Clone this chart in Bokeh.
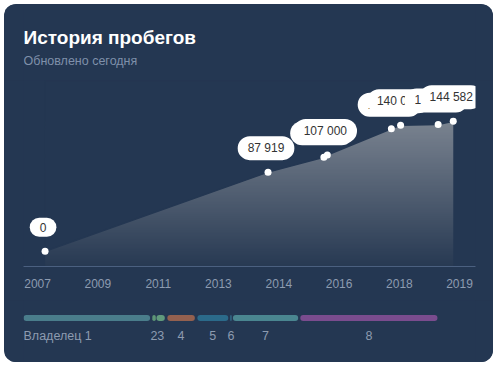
import numpy as np
import pandas as pd
from bokeh.plotting import figure
from bokeh.models import Range1d, FixedTicker, DatetimeTickFormatter, Label
from bokeh.layouts import column
from bokeh.core.properties import value
from bokeh.embed import file_html
from bokeh.resources import INLINE

# ---- data ----
dates = ["2008-02-10", "2014-06-14", "2016-01-15", "2016-02-20",
         "2017-12-16", "2018-03-22", "2019-04-16", "2019-09-20"]
mileage = [0, 87919, 104500, 107000, 136100, 140000, 141000, 144582]

tick_dates = ["2007-11-24", "2009-08-11", "2011-05-01", "2013-01-15",
              "2014-10-05", "2016-06-21", "2018-03-10", "2019-11-24"]

owner_names = ["Владелец 1", "2", "3", "4", "5", "6", "7", "8"]
owner_start = ["2007-07-01", "2011-02-28", "2011-04-12", "2011-08-03",
               "2012-06-10", "2013-05-15", "2013-06-14", "2015-05-15"]
owner_end = ["2011-02-05", "2011-04-05", "2011-07-08", "2012-05-15",
             "2013-04-27", "2013-06-03", "2015-04-23", "2019-04-09"]
owner_colors = ["#4a7d8b", "#5d9676", "#609a7c", "#93604f",
                "#2b6a8a", "#2f5f7c", "#4a8690", "#7a4c8e"]

title_text = "История пробегов"
subtitle_text = "Обновлено сегодня"

# ---- styles ----
BG = "#243752"
FONT = "Liberation Sans"
W = 489


def ms(d):
    return pd.Timestamp(d).timestamp() * 1000.0


xms = np.array([ms(d) for d in dates])
tick_ms = [ms(d) for d in tick_dates]
os_ms = [ms(d) for d in owner_start]
oe_ms = [ms(d) for d in owner_end]


def base_fig(**kw):
    f = figure(width=W, toolbar_location=None, output_backend="svg",
               y_axis_location=None, **kw)
    f.background_fill_color = BG
    f.border_fill_color = BG
    f.outline_line_color = None
    f.grid.visible = False
    return f


# ---- header ----
p0 = base_fig(height=76, x_range=Range1d(0, 470), y_range=Range1d(0, 76),
              x_axis_location=None,
              min_border_left=19, min_border_right=0,
              min_border_top=0, min_border_bottom=0)
p0.text(x=[0], y=[43.5], text=[title_text], text_font=value(FONT),
        text_font_size="19px", text_font_style="bold", text_color="white",
        text_baseline="alphabetic", text_align="left")
p0.text(x=[0], y=[20], text=[subtitle_text], text_font=value(FONT),
        text_font_size="12.5px", text_color="#7f90aa",
        text_baseline="alphabetic", text_align="left")

# ---- mileage chart ----
x_range = Range1d(ms("2007-07-01"), ms("2020-05-08"))
y_start, y_end = -17000, 189800

p1 = base_fig(height=220, x_range=x_range, y_range=Range1d(y_start, y_end),
              x_axis_type="datetime",
              min_border_left=19, min_border_right=18,
              min_border_top=0, min_border_bottom=34)

# gradient area (image masked above the line)
n = 120
t = np.linspace(0, 1, n)
top_rgb = np.array([122, 131, 144])
bot_rgb = np.array([40, 58, 83])
img = np.empty((n, 2), dtype=np.uint32)
view = img.view(dtype=np.uint8).reshape((n, 2, 4))
for c in range(3):
    view[:, :, c] = (bot_rgb[c] + (top_rgb[c] - bot_rgb[c]) * t)[:, None].astype(np.uint8)
view[:, :, 3] = 255
ymax = max(mileage)
p1.image_rgba(image=[img], x=xms[0], y=y_start, dw=xms[-1] - xms[0], dh=ymax - y_start)
p1.patch(list(xms) + [xms[-1], xms[0]], list(mileage) + [y_end, y_end],
         fill_color=BG, line_color=BG, line_width=1.5)

p1.scatter(xms, mileage, size=7, fill_color="white", line_color=None)

for xi, yi in zip(xms, mileage):
    txt = f"{yi:,}".replace(",", " ")
    p1.add_layout(Label(x=xi, y=yi, x_offset=-4, y_offset=22, text=txt,
                        text_align="center", text_baseline="middle",
                        text_font=FONT, text_font_size="12px", text_alpha=0,
                        background_fill_color="#aab3c0", background_fill_alpha=0.5,
                        border_radius=12, padding=(10, 5)))
    p1.add_layout(Label(x=xi, y=yi, x_offset=-2, y_offset=24, text=txt,
                        text_align="center", text_baseline="middle",
                        text_font=FONT, text_font_size="12px", text_color="#333333",
                        background_fill_color="white",
                        border_radius=12, padding=(10, 5)))

ax = p1.xaxis[0]
ax.ticker = FixedTicker(ticks=tick_ms)
ax.formatter = DatetimeTickFormatter(years="%Y", months="%Y", days="%Y",
                                     hours="%Y", hourmin="%Y")
ax.axis_line_color = "#4b6080"
ax.major_tick_line_color = None
ax.minor_tick_line_color = None
ax.major_tick_out = 0
ax.major_label_standoff = 12
ax.major_label_text_color = "#8d9bb0"
ax.major_label_text_font = FONT
ax.major_label_text_font_size = "12px"

# ---- owners timeline ----
p2 = base_fig(height=62, x_range=x_range, y_range=Range1d(0, 62),
              x_axis_location=None,
              min_border_left=19, min_border_right=18,
              min_border_top=0, min_border_bottom=0)

p2.quad(left=os_ms, right=oe_ms, bottom=41.5, top=47.5,
        fill_color=owner_colors, line_color=None, border_radius=3)

mids = [(a + b) / 2 for a, b in zip(os_ms, oe_ms)]
p2.text(x=[os_ms[0]], y=[27], text=[owner_names[0]], text_align="left",
        text_baseline="middle", text_font=value(FONT), text_font_size="12.5px",
        text_color="#8d9bb0")
p2.text(x=mids[1:], y=[27] * (len(mids) - 1), text=owner_names[1:], text_align="center",
        text_baseline="middle", text_font=value(FONT), text_font_size="12.5px",
        text_color="#8d9bb0")

layout = column(p0, p1, p2, spacing=0, margin=(4, 0, 0, 4),
                styles={"border-radius": "12px", "overflow": "hidden",
                        "background-color": BG})

open("out.html", "w").write(file_html(layout, INLINE))
